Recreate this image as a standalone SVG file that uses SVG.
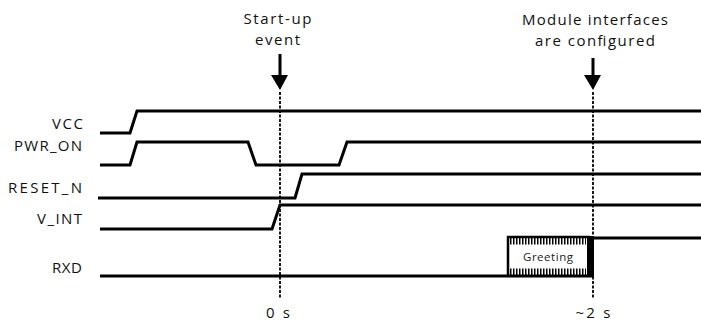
<svg xmlns="http://www.w3.org/2000/svg" width="701" height="322" viewBox="0 0 701 322">
<style>
.sig{fill:none;stroke:#000;stroke-width:3;stroke-linejoin:miter}
.lbl{font-family:"Open Sans","Liberation Sans",Arial,sans-serif;font-size:15px;fill:#111}
.dash{stroke:#000;stroke-width:1.8;stroke-dasharray:3 1.5}
.tick{stroke:#000;stroke-width:7;stroke-dasharray:1.5 1.5}
</style>
<rect width="701" height="322" fill="#fff"/>
<g id="labels">
<text class="lbl" x="83" y="129" text-anchor="end" textLength="31">VCC</text>
<text class="lbl" x="82" y="151" text-anchor="end" textLength="68">PWR_ON</text>
<text class="lbl" x="82" y="193" text-anchor="end" textLength="74">RESET_N</text>
<text class="lbl" x="82" y="224" text-anchor="end" textLength="45">V_INT</text>
<text class="lbl" x="82" y="273" text-anchor="end" textLength="30">RXD</text>
</g>
<g id="connectors">
<line class="dash" x1="280" y1="92" x2="280" y2="298"/>
<line class="dash" x1="593" y1="92" x2="593" y2="298"/>
</g>
<g id="vcc"><polyline class="sig" points="100,133 130,133 137,111 701,111"/></g>
<g id="pwr_on"><polyline class="sig" points="100,165 130,165 137,142 248,142 256,165 339,165 347,142 701,142"/></g>
<g id="reset_n"><polyline class="sig" points="98,198 295,198 302,174 701,174"/></g>
<g id="v_int"><polyline class="sig" points="100,229 272,229 280,205 701,205"/></g>
<g id="rxd">
<polyline class="sig" points="100,276 507,276"/>
<rect x="507" y="237" width="86" height="39" fill="#fff"/>
<line x1="507" y1="237" x2="590" y2="237" stroke="#000" stroke-width="2.5"/>
<line x1="508" y1="236" x2="508" y2="277" stroke="#000" stroke-width="2.5"/>
<line class="tick" x1="510" y1="241" x2="586" y2="241"/>
<line class="tick" x1="510" y1="272" x2="586" y2="272"/>
<rect x="587" y="236" width="7" height="41" fill="#000"/>
<polyline class="sig" points="593,238 701,238"/>
<polyline class="sig" points="507,276 593,276"/>
<text x="548" y="261" text-anchor="middle" font-family="Open Sans,Liberation Sans,Arial,sans-serif" font-size="11.5" fill="#222" textLength="50">Greeting</text>
</g>
<g id="startup">
<text class="lbl" x="277.5" y="24" text-anchor="middle" textLength="68">Start-up</text>
<text class="lbl" x="277.5" y="45" text-anchor="middle" textLength="45">event</text>
<line x1="280" y1="54" x2="280" y2="77" stroke="#000" stroke-width="3"/>
<polygon points="271,75 288,75 280,90" fill="#000"/>
</g>
<g id="configured">
<text class="lbl" x="595" y="25" text-anchor="middle" textLength="146">Module interfaces</text>
<text class="lbl" x="595" y="46" text-anchor="middle" textLength="120">are configured</text>
<line x1="593" y1="58" x2="593" y2="77" stroke="#000" stroke-width="3"/>
<polygon points="584,75 601,75 593,90" fill="#000"/>
</g>
<g id="timeaxis">
<text class="lbl" x="278" y="318" text-anchor="middle" textLength="24">0 s</text>
<text class="lbl" x="593" y="318" text-anchor="middle" textLength="35">~2 s</text>
</g>
</svg>
